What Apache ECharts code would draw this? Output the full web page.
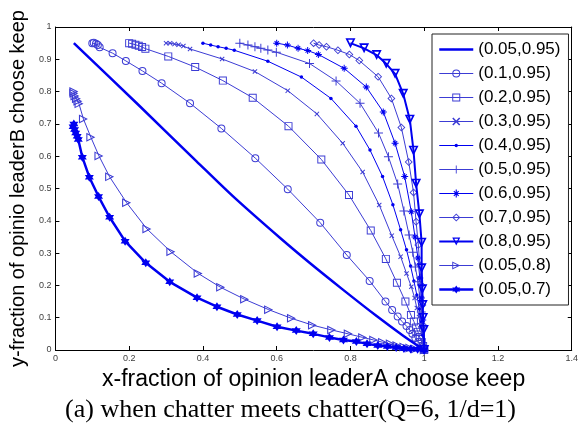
<!DOCTYPE html>
<html>
<head>
<meta charset="utf-8">
<script src="https://cdn.jsdelivr.net/npm/echarts@6/dist/echarts.min.js"></script>
<style>
  html, body { margin: 0; padding: 0; background: #fff; }
  #chart { width: 581px; height: 437px; }
</style>
</head>
<body>
<div id="chart"></div>
<script>
// legend names, in plotting order
const names = ['(0.05,0.95)', '(0.1,0.95)', '(0.2,0.95)', '(0.3,0.95)', '(0.4,0.95)', '(0.5,0.95)',
               '(0.6,0.95)', '(0.7,0.95)', '(0.8,0.95)', '(0.05,0.8)', '(0.05,0.7)'];

// [x, y] points
const p005_095 = [[0.05,0.95],[0.224,0.76],[0.382,0.585],[0.487,0.47],[0.611,0.345],[0.689,0.27],
                  [0.776,0.19],[0.871,0.105],[0.942,0.045],[1.0,0.0]];
const p01_095 = [[0.1,0.95],[0.104,0.951],[0.110,0.948],[0.115,0.944],[0.120,0.937],[0.155,0.919],[0.191,0.895],
                 [0.236,0.864],[0.288,0.826],[0.365,0.764],[0.450,0.686],[0.542,0.594],[0.630,0.498],[0.718,0.394],
                 [0.790,0.294],[0.852,0.214],[0.895,0.150],[0.913,0.124],[0.928,0.104],[0.940,0.088],[0.952,0.074],
                 [0.961,0.062],[0.968,0.050],[0.976,0.037],[0.984,0.025],[0.995,0.009],[1.0,0.0]];
const p02_095 = [[0.2,0.95],[0.208,0.948],[0.217,0.945],[0.226,0.942],[0.235,0.938],[0.244,0.933],[0.306,0.909],
                 [0.379,0.876],[0.454,0.834],[0.535,0.781],[0.632,0.693],[0.721,0.590],[0.796,0.480],[0.855,0.370],
                 [0.896,0.282],[0.926,0.208],[0.949,0.150],[0.964,0.108],[0.972,0.088],[0.978,0.070],[0.983,0.056],
                 [0.988,0.040],[0.993,0.025],[0.997,0.012],[1.0,0.0]];
const p03_095 = [[0.3,0.95],[0.311,0.950],[0.323,0.947],[0.334,0.945],[0.347,0.941],[0.365,0.932],[0.452,0.901],
                 [0.541,0.862],[0.630,0.803],[0.709,0.731],[0.779,0.640],[0.833,0.551],[0.878,0.449],[0.912,0.354],
                 [0.936,0.289],[0.952,0.237],[0.965,0.196],[0.974,0.161],[0.980,0.130],[0.986,0.102],[0.989,0.077],
                 [0.993,0.053],[0.997,0.028],[1.0,0.0]];
const p04_095 = [[0.4,0.95],[0.421,0.944],[0.441,0.939],[0.463,0.934],[0.485,0.928],[0.576,0.894],[0.667,0.845],
                 [0.747,0.779],[0.815,0.693],[0.853,0.619],[0.887,0.537],[0.915,0.450],[0.936,0.372],[0.952,0.310],
                 [0.963,0.260],[0.972,0.214],[0.980,0.170],[0.987,0.127],[0.992,0.087],[0.996,0.046],[1.0,0.0]];
const p05_095 = [[0.5,0.95],[0.522,0.944],[0.541,0.939],[0.557,0.934],[0.576,0.929],[0.599,0.922],[0.689,0.887],
                 [0.761,0.833],[0.826,0.764],[0.876,0.672],[0.903,0.598],[0.928,0.514],[0.945,0.430],[0.959,0.356],
                 [0.969,0.303],[0.976,0.257],[0.983,0.211],[0.988,0.164],[0.992,0.118],[0.996,0.068],[1.0,0.0]];
const p06_095 = [[0.6,0.95],[0.629,0.944],[0.658,0.934],[0.684,0.927],[0.713,0.915],[0.783,0.872],[0.843,0.814],
                 [0.889,0.737],[0.921,0.640],[0.947,0.537],[0.965,0.428],[0.975,0.350],[0.983,0.285],[0.988,0.223],
                 [0.992,0.161],[0.996,0.093],[1.0,0.0]];
const p07_095 = [[0.7,0.95],[0.715,0.944],[0.735,0.939],[0.766,0.928],[0.797,0.915],[0.824,0.896],[0.875,0.846],
                 [0.911,0.779],[0.938,0.689],[0.958,0.582],[0.971,0.488],[0.978,0.397],[0.984,0.325],[0.988,0.263],
                 [0.992,0.201],[0.995,0.139],[0.997,0.077],[1.0,0.0]];
const p08_095 = [[0.8,0.95],[0.837,0.934],[0.871,0.913],[0.897,0.886],[0.921,0.855],[0.943,0.793],[0.961,0.713],
                 [0.971,0.617],[0.978,0.515],[0.987,0.420],[0.993,0.332],[0.993,0.253],[0.995,0.188],[0.996,0.139],
                 [0.997,0.099],[0.999,0.062],[1.0,0.0]];
const p005_08 = [[0.05,0.8],[0.050,0.795],[0.053,0.786],[0.057,0.778],[0.061,0.770],[0.064,0.762],[0.076,0.715],
                 [0.096,0.659],[0.118,0.601],[0.147,0.536],[0.193,0.456],[0.248,0.375],[0.313,0.304],[0.387,0.237],
                 [0.448,0.194],[0.513,0.157],[0.578,0.125],[0.640,0.098],[0.697,0.077],[0.749,0.062],[0.794,0.050],
                 [0.833,0.039],[0.863,0.031],[0.887,0.024],[0.908,0.019],[0.926,0.014],[0.945,0.009],[0.961,0.006],
                 [0.976,0.003],[1.0,0.0]];
const p005_07 = [[0.05,0.7],[0.048,0.691],[0.052,0.683],[0.055,0.672],[0.059,0.662],[0.062,0.652],[0.073,0.597],
                 [0.092,0.535],[0.117,0.475],[0.147,0.411],[0.189,0.337],[0.245,0.270],[0.310,0.211],[0.384,0.162],
                 [0.438,0.134],[0.493,0.110],[0.547,0.091],[0.601,0.072],[0.653,0.060],[0.699,0.050],[0.743,0.039],
                 [0.781,0.031],[0.816,0.026],[0.845,0.019],[0.874,0.014],[0.900,0.011],[0.924,0.008],[0.945,0.005],
                 [0.963,0.003],[0.982,0.002],[1.0,0.0]];

const xTicks = { min: 0, max: 1.4, interval: 0.2 };
const yTicks = { min: 0, max: 1, interval: 0.1 };

const BLUE = '#0000f0';
const THIN = '#3c3cd4';

// outline markers drawn as filled rings so they stay 1px thin and see-through
const M = {
  circle: 'path://M0,5A5,5 0 1,1 10,5A5,5 0 1,1 0,5Z M1.25,5A3.75,3.75 0 1,0 8.75,5A3.75,3.75 0 1,0 1.25,5Z',
  square: 'path://M0,0H10V10H0Z M1.2,1.2V8.8H8.8V1.2Z',
  xmark: 'path://M0,1.4L1.4,0L5,3.6L8.6,0L10,1.4L6.4,5L10,8.6L8.6,10L5,6.4L1.4,10L0,8.6L3.6,5Z',
  plus: 'path://M4.45,0H5.55V4.45H10V5.55H5.55V10H4.45V5.55H0V4.45H4.45Z',
  aster: 'path://M4.3,0H5.7V4.3H10V5.7H5.7V10H4.3V5.7H0V4.3H4.3Z M1.5,2.5L2.5,1.5L5,4L7.5,1.5L8.5,2.5L6,5L8.5,7.5L7.5,8.5L5,6L2.5,8.5L1.5,7.5L4,5Z',
  diamond: 'path://M5,0L10,5L5,10L0,5Z M5,1.6L1.6,5L5,8.4L8.4,5Z',
  tdown: 'path://M0,0L10,0L5,10Z M2.59,1.6L5,6.42L7.41,1.6Z',
  tright: 'path://M0,0L10,5L0,10Z M1.2,1.94L1.2,8.06L7.32,5Z',
  hexa: 'path://M5,0L9.33,7.5L0.67,7.5Z M5,10L0.67,2.5L9.33,2.5Z'
};

// legend icons for the two series whose default icon looks wrong (34x10 box, corner specks fix the bounds)
const BOX = 'M0,0h0.01v0.01h-0.01Z M34,10h-0.01v-0.01h0.01Z ';
const iconPlainLine = 'path://' + BOX + 'M0,3.75H34V6.25H0Z';
const iconDotLine = 'path://' + BOX + 'M0,4.5H34V5.5H0Z M15.3,5A1.7,1.7 0 1,1 18.7,5A1.7,1.7 0 1,1 15.3,5Z';

function line(name, data, symbol, size, color, width, smooth) {
  return {
    name, type: 'line', data, symbol, symbolSize: size, smooth: smooth || false,
    color, lineStyle: { color, width }, itemStyle: { color },
    animation: false, z: width > 1.5 ? 3 : 2
  };
}

const series = [
  line(names[0], p005_095, 'none', 0, BLUE, 2.5, 0.3),
  line(names[1], p01_095, M.circle, 8, THIN, 1),
  line(names[2], p02_095, M.square, 8, THIN, 1),
  line(names[3], p03_095, M.xmark, 5, THIN, 1),
  line(names[4], p04_095, 'circle', 3.5, BLUE, 1),
  line(names[5], p05_095, M.plus, 9, THIN, 1),
  line(names[6], p06_095, M.aster, 7, BLUE, 1),
  line(names[7], p07_095, M.diamond, 8, THIN, 1),
  line(names[8], p08_095, M.tdown, 10, BLUE, 2),
  line(names[9], p005_08, M.tright, 9, THIN, 1),
  line(names[10], p005_07, M.hexa, 9, BLUE, 2.5)
];

const legendData = names.map((n, i) => {
  if (i === 0) return { name: n, icon: iconPlainLine };
  if (i === 4) return { name: n, icon: iconDotLine };
  return { name: n };
});

const axisText = { fontFamily: 'Liberation Sans, Arial, sans-serif', fontSize: 9, color: '#404040' };
const blackLine = { show: true, onZero: false, lineStyle: { color: '#000', width: 1 } };
const inTick = { show: true, inside: true, length: 4, lineStyle: { color: '#000' } };

const chart = echarts.init(document.getElementById('chart'), null, { renderer: 'canvas' });
chart.setOption({
  backgroundColor: '#fff',
  animation: false,
  grid: { left: 45, right: 4, top: 27, bottom: 87, containLabel: false },
  legend: {
    orient: 'vertical', left: 432, top: 34,
    data: legendData,
    itemWidth: 34, itemHeight: 10, itemGap: 7,
    padding: [7, 8, 7, 6],
    borderColor: '#222', borderWidth: 1, backgroundColor: '#fff',
    textStyle: { fontFamily: 'Liberation Sans, Arial, sans-serif', fontSize: 17, color: '#000' },
    lineStyle: { width: 'inherit' }
  },
  xAxis: [
    { type: 'value', ...xTicks, axisLine: blackLine, axisTick: inTick, splitLine: { show: false },
      axisLabel: { ...axisText, margin: 4, showMaxLabel: true },
      name: 'x-fraction of opinion leaderA choose keep', nameLocation: 'middle', nameGap: 18,
      nameTextStyle: { fontFamily: 'Liberation Sans, Arial, sans-serif', fontSize: 23, color: '#000' } },
    { type: 'value', position: 'top', ...xTicks, axisLine: blackLine, axisTick: inTick,
      axisLabel: { show: false }, splitLine: { show: false } }
  ],
  yAxis: [
    { type: 'value', ...yTicks, axisLine: blackLine, axisTick: inTick, splitLine: { show: false },
      axisLabel: { ...axisText, margin: 4 },
      name: 'y-fraction of opinio leaderB choose keep', nameLocation: 'middle', nameGap: 21,
      nameTextStyle: { fontFamily: 'Liberation Sans, Arial, sans-serif', fontSize: 20, color: '#000' } },
    { type: 'value', position: 'right', ...yTicks, axisLine: blackLine, axisTick: inTick,
      axisLabel: { show: false }, splitLine: { show: false } }
  ],
  graphic: [{
    type: 'text', left: 'center', top: 397,
    style: { text: '(a) when chatter meets chatter(Q=6, 1/d=1)', fill: '#000',
             font: '26px "Liberation Serif", "Times New Roman", serif' }
  }],
  series
});
</script>
</body>
</html>
